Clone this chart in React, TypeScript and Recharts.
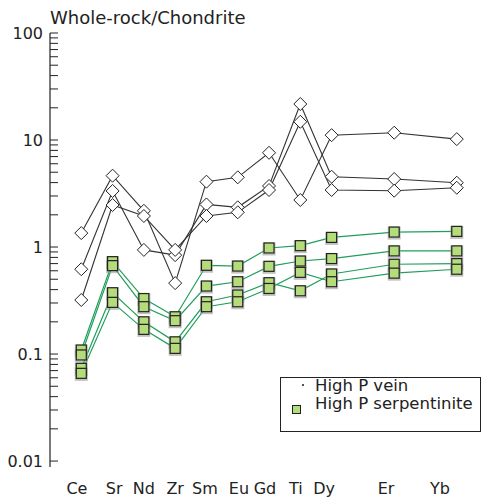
import React from 'react';
import { LineChart, Line, XAxis, YAxis } from 'recharts';

const ELEMENTS = ['Ce', 'Sr', 'Nd', 'Zr', 'Sm', 'Eu', 'Gd', 'Ti', 'Dy', 'Er', 'Yb'];
// position of each element along the spider diagram axis
const ELEMENT_X = [1, 2, 3, 4, 5, 6, 7, 8, 9, 11, 13];
const AXIS_TICKS = [1, 2, 3, 4, 5, 6, 7, 8, 9, 10, 11, 12, 13];
const LABEL_X = [0.86, 2.05, 3.0, 4.0, 4.95, 6.04, 6.87, 7.86, 8.76, 10.74, 12.46];

// High P vein
const vein1 = [1.35, 4.64, 2.18, 0.46, 4.08, 4.48, 7.6, 2.75, 11.1, 11.7, 10.2];
const vein2 = [0.62, 3.34, 0.94, 0.84, 2.5, 2.35, 3.72, 21.7, 4.54, 4.32, 3.99];
const vein3 = [0.32, 2.47, 1.95, 0.94, 1.95, 2.11, 3.41, 14.8, 3.41, 3.36, 3.58];

// High P serpentinite
const serp1 = [0.109, 0.73, 0.33, 0.223, 0.675, 0.664, 0.98, 1.03, 1.23, 1.38, 1.4];
const serp2 = [0.098, 0.67, 0.277, 0.205, 0.432, 0.474, 0.66, 0.74, 0.78, 0.92, 0.92];
const serp3 = [0.0735, 0.374, 0.2, 0.13, 0.308, 0.356, 0.464, 0.39, 0.56, 0.69, 0.7];
const serp4 = [0.066, 0.304, 0.17, 0.113, 0.277, 0.308, 0.41, 0.58, 0.474, 0.57, 0.62];

const Y_TICKS: number[] = [];
[0.01, 0.1, 1, 10].forEach((d) => {
  for (let m = 1; m <= 9; m++) Y_TICKS.push(+(m * d).toPrecision(3));
});
Y_TICKS.push(100);

const data = ELEMENTS.map((el, i) => ({
  el,
  x: ELEMENT_X[i],
  vein1: vein1[i],
  vein2: vein2[i],
  vein3: vein3[i],
  serp1: serp1[i],
  serp2: serp2[i],
  serp3: serp3[i],
  serp4: serp4[i],
}));

const FONT = '"DejaVu Sans", Verdana, sans-serif';
const INK = '#222';
const GREEN = '#1f9e5a';
const SQUARE_FILL = '#b4dc7a';

const isDecade = (v: number) => Math.abs(Math.log10(v) - Math.round(Math.log10(v))) < 1e-6;

const YTick = (props: any) => {
  const { x, y, payload } = props;
  const v = payload.value;
  return (
    <g>
      <line x1={x} x2={x + 8} y1={y} y2={y} stroke={INK} strokeWidth={1} />
      {isDecade(v) && (
        <text x={x - 7} y={y} dy="0.36em" textAnchor="end" fontSize={16} fontFamily={FONT} fill={INK}>
          {String(v)}
        </text>
      )}
    </g>
  );
};

const XTickMark = (props: any) => {
  const { x, y } = props;
  return <line x1={x} x2={x} y1={y} y2={y - 5} stroke={INK} strokeWidth={1} />;
};

const XLabel = (props: any) => {
  const { x, y, payload } = props;
  const i = LABEL_X.indexOf(payload.value);
  return (
    <text x={x} y={y + 27} textAnchor="middle" fontSize={16} fontFamily={FONT} fill={INK}>
      {ELEMENTS[i]}
    </text>
  );
};

const Diamond = (props: any) => {
  const { cx, cy } = props;
  if (cx == null || cy == null) return null;
  const r = 6.5;
  return (
    <path
      d={`M${cx},${cy - r} L${cx + r},${cy} L${cx},${cy + r} L${cx - r},${cy} Z`}
      fill="#fff"
      stroke={INK}
      strokeWidth={1}
    />
  );
};

const Square = (props: any) => {
  const { cx, cy } = props;
  if (cx == null || cy == null) return null;
  const s = 10;
  return (
    <g>
      <rect x={cx - s / 2 - 0.5} y={cy - s / 2 + 0.5} width={s + 1} height={s + 1} fill="none" stroke="#999" strokeWidth={2} opacity={0.6} />
      <rect x={cx - s / 2} y={cy - s / 2} width={s} height={s} fill={SQUARE_FILL} stroke={INK} strokeWidth={1.2} />
    </g>
  );
};

function LegendBox() {
  return (
    <div
      style={{
        position: 'absolute',
        left: 280,
        top: 377,
        width: 201,
        height: 55,
        boxSizing: 'border-box',
        border: `1px solid ${INK}`,
        background: '#fff',
        fontFamily: FONT,
        fontSize: 16.5,
        color: INK,
      }}
    >
      <div style={{ position: 'absolute', left: 21, top: 6, width: 1.5, height: 1.5, background: '#555' }} />
      <div style={{ position: 'absolute', left: 34, top: -2, lineHeight: '20px', whiteSpace: 'nowrap' }}>High P vein</div>
      <div
        style={{
          position: 'absolute',
          left: 11,
          top: 27,
          width: 7,
          height: 7,
          background: SQUARE_FILL,
          border: `1px solid ${INK}`,
        }}
      />
      <div style={{ position: 'absolute', left: 34, top: 16, lineHeight: '20px', whiteSpace: 'nowrap' }}>High P serpentinite</div>
    </div>
  );
}

export default function App() {
  return (
    <div style={{ position: 'absolute', left: 0, top: 0, width: 484, height: 497, background: '#fff' }}>
      <div
        style={{
          position: 'absolute',
          left: 50,
          top: 8,
          fontFamily: FONT,
          fontSize: 18,
          lineHeight: '20px',
          color: INK,
          whiteSpace: 'nowrap',
        }}
      >
        Whole-rock/Chondrite
      </div>
      <LineChart width={484} height={497} data={data} margin={{ top: 33, right: 0, bottom: 0, left: 0 }}>
        <XAxis
          xAxisId="main"
          dataKey="x"
          type="number"
          domain={[0, 13.87]}
          ticks={AXIS_TICKS}
          interval={0}
          height={0}
          tickSize={0}
          tickMargin={0}
          tickLine={false}
          tick={<XTickMark />}
          axisLine={{ stroke: INK, strokeWidth: 1.2 }}
          allowDataOverflow
        />
        <XAxis
          xAxisId="labels"
          dataKey="x"
          type="number"
          domain={[0, 13.87]}
          ticks={LABEL_X}
          interval={0}
          height={30}
          tickSize={0}
          tickMargin={0}
          tickLine={false}
          tick={<XLabel />}
          axisLine={false}
          allowDataOverflow
        />
        <XAxis
          xAxisId="top"
          orientation="top"
          dataKey="x"
          type="number"
          domain={[0, 13.87]}
          height={0}
          tick={false}
          tickLine={false}
          axisLine={{ stroke: INK, strokeWidth: 1 }}
        />
        <YAxis
          scale="log"
          type="number"
          domain={[0.0088, 100]}
          ticks={Y_TICKS}
          width={50}
          tickSize={0}
          tickMargin={0}
          tickLine={false}
          tick={<YTick />}
          axisLine={{ stroke: INK, strokeWidth: 1.2 }}
          allowDataOverflow
          interval={0}
        />
        {['serp1', 'serp2', 'serp3', 'serp4'].map((k) => (
          <Line
            key={k}
            xAxisId="main"
            dataKey={k}
            type="linear"
            stroke={GREEN}
            strokeWidth={1.2}
            dot={(p: any) => <Square {...p} key={`${k}-${p.index}`} />}
            activeDot={false}
            isAnimationActive={false}
          />
        ))}
        {['vein1', 'vein2', 'vein3'].map((k) => (
          <Line
            key={k}
            xAxisId="main"
            dataKey={k}
            type="linear"
            stroke="#333"
            strokeWidth={1.1}
            dot={(p: any) => <Diamond {...p} key={`${k}-${p.index}`} />}
            activeDot={false}
            isAnimationActive={false}
          />
        ))}
      </LineChart>
      <LegendBox />
    </div>
  );
}
